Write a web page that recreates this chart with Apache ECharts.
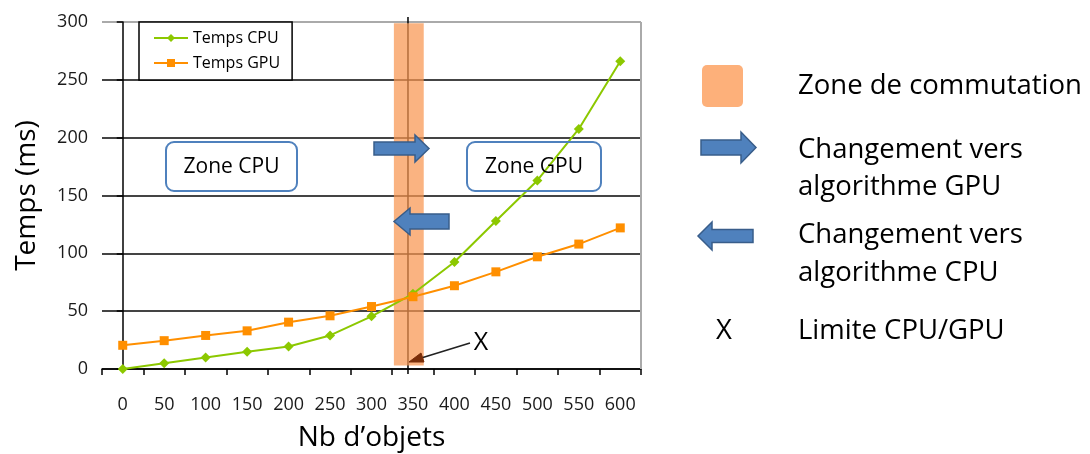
<!DOCTYPE html>
<html><head><meta charset="utf-8">
<script src="https://cdn.jsdelivr.net/npm/echarts@6/dist/echarts.min.js"></script>
<style>html,body{margin:0;padding:0;background:#fff}#c{width:1090px;height:454px}</style>
</head><body><div id="c"></div>
<script>
const categories = ['0','50','100','150','200','250','300','350','400','450','500','550','600'];
const cpuTimes = [0, 5, 10, 15, 19.5, 29, 45.5, 65, 92.5, 128, 163, 207.5, 266];
const gpuTimes = [20.5, 24.5, 29, 33, 40.5, 46, 54, 62.5, 72, 84, 97, 108, 122];
const zoneX = [327, 363];      // zone de commutation (in Nb d'objets)
const zoneY = [3, 299];
const limitX = 344;            // limite CPU/GPU
const FONT = 'Open Sans';

const chart = echarts.init(document.getElementById('c'));
const option = {
  animation: false,
  backgroundColor: '#fff',
  grid: { left: 102, right: 449, top: 22, bottom: 85, containLabel: false, outerBoundsMode: 'none' },
  legend: {
    left: 139, top: 22, orient: 'vertical',
    borderColor: '#000', borderWidth: 1.5, backgroundColor: '#fff',
    padding: [8, 12, 9, 14], itemGap: 9, itemWidth: 34, itemHeight: 10,
    textStyle: { fontSize: 16, color: '#000', fontFamily: FONT },
    data: ['Temps CPU', 'Temps GPU']
  },
  xAxis: [{
    type: 'category', data: categories, boundaryGap: true,
    name: 'Nb d\u2019objets', nameLocation: 'middle', nameGap: 55,
    nameTextStyle: { fontSize: 28, color: '#000', fontFamily: FONT },
    axisLine: { lineStyle: { color: '#000', width: 1.5 } },
    axisTick: { show: true, length: 6, inside: false, lineStyle: { color: '#000', width: 1.5 } },
    axisLabel: { margin: 27, fontSize: 18, color: '#1a1a1a', fontFamily: FONT },
    splitLine: { show: false }
  }, {
    type: 'value', min: -25, max: 625, show: false
  }],
  yAxis: {
    type: 'value', min: 0, max: 300, interval: 50,
    name: 'Temps (ms)', nameLocation: 'middle', nameGap: 61,
    nameTextStyle: { fontSize: 28, color: '#000', fontFamily: FONT },
    axisLine: { show: true, lineStyle: { color: '#000', width: 1.5 } },
    axisTick: { show: true, length: 6, lineStyle: { color: '#000', width: 1.5 } },
    axisLabel: { margin: 14, fontSize: 18, color: '#1a1a1a', fontFamily: FONT },
    splitLine: { show: true, lineStyle: { color: ['#444','#444','#444','#444','#444','#444','#aaa'], width: 2 } }
  },
  series: [{
    name: 'Temps CPU', type: 'line', data: cpuTimes, z: 5,
    symbol: 'diamond', symbolSize: 10,
    lineStyle: { color: '#8CC800', width: 2 }, itemStyle: { color: '#8CC800' }
  }, {
    name: 'Temps GPU', type: 'line', data: gpuTimes, z: 5,
    symbol: 'rect', symbolSize: 9,
    lineStyle: { color: '#FF8F00', width: 2 }, itemStyle: { color: '#FF8F00' }
  }]
};
chart.setOption(option);

const px = v => chart.convertToPixel({ xAxisIndex: 1 }, v);
const py = v => chart.convertToPixel({ yAxisIndex: 0 }, v);

function arrow(x0, x1, yc, bh, hh, hl, dir, fill, stroke) {
  let pts;
  if (dir > 0) {
    const xh = x1 - hl;
    pts = [[x0, yc - bh], [xh, yc - bh], [xh, yc - hh], [x1, yc], [xh, yc + hh], [xh, yc + bh], [x0, yc + bh]];
  } else {
    const xh = x0 + hl;
    pts = [[x1, yc - bh], [xh, yc - bh], [xh, yc - hh], [x0, yc], [xh, yc + hh], [xh, yc + bh], [x1, yc + bh]];
  }
  return { type: 'polygon', z: 30, shape: { points: pts }, style: { fill: fill || '#4F81BD', stroke: stroke || '#385D8A', lineWidth: 1.5 } };
}

const zx0 = px(zoneX[0]), zx1 = px(zoneX[1]);
const zy0 = py(zoneY[1]), zy1 = py(zoneY[0]);
const lx = px(limitX);
const BIG = 27.5;

const graphics = [
  { type: 'line', z: 1, shape: { x1: lx, y1: 17, x2: lx, y2: 374 }, style: { stroke: '#000', lineWidth: 1.5 } },
  { type: 'rect', z: 2, shape: { x: zx0, y: zy0, width: zx1 - zx0, height: zy1 - zy0 }, style: { fill: 'rgba(248,150,80,0.72)' } },
  // Zone boxes
  { type: 'rect', z: 30, shape: { x: 166, y: 142, width: 131, height: 49, r: 8 }, style: { fill: '#fff', stroke: '#4F81BD', lineWidth: 2 } },
  { type: 'text', z: 31, style: { x: 231.5, y: 167, text: 'Zone CPU', fontSize: 21, fontFamily: FONT, fill: '#000', align: 'center', verticalAlign: 'middle' } },
  { type: 'rect', z: 30, shape: { x: 467, y: 142, width: 134, height: 49, r: 8 }, style: { fill: 'rgba(255,255,255,0)', stroke: '#4F81BD', lineWidth: 2 } },
  { type: 'text', z: 31, style: { x: 534, y: 167, text: 'Zone GPU', fontSize: 21, fontFamily: FONT, fill: '#000', align: 'center', verticalAlign: 'middle' } },
  // in-chart arrows
  arrow(374, 429, 148.5, 6.5, 13.5, 14, 1),
  arrow(394, 449, 221.5, 7.5, 13.5, 16, -1),
  // X annotation
  { type: 'text', z: 31, style: { x: 481, y: 343, text: 'X', fontSize: 25, fontFamily: FONT, fill: '#000', align: 'center', verticalAlign: 'middle' } },
  { type: 'line', z: 31, shape: { x1: 470, y1: 343, x2: 418, y2: 359 }, style: { stroke: '#222', lineWidth: 1.5 } },
  { type: 'polygon', z: 31, shape: { points: [[lx + 1, 362], [lx + 13, 353], [lx + 16, 362]] }, style: { fill: '#7a2e0a', stroke: '#7a2e0a', lineWidth: 1 } },
  // Right legend
  { type: 'rect', z: 30, shape: { x: 702, y: 65, width: 41, height: 42, r: 5 }, style: { fill: '#FDB07A' } },
  { type: 'text', z: 31, style: { x: 798, y: 86, text: 'Zone de commutation', fontSize: BIG, fontFamily: FONT, fill: '#000', verticalAlign: 'middle' } },
  arrow(701, 756, 147.5, 7.5, 15.5, 15, 1),
  { type: 'text', z: 31, style: { x: 798, y: 150, text: 'Changement vers', fontSize: BIG, fontFamily: FONT, fill: '#000', verticalAlign: 'middle' } },
  { type: 'text', z: 31, style: { x: 798, y: 187, text: 'algorithme GPU', fontSize: BIG, fontFamily: FONT, fill: '#000', verticalAlign: 'middle' } },
  arrow(698, 753, 236, 6.5, 14, 14, -1),
  { type: 'text', z: 31, style: { x: 798, y: 235, text: 'Changement vers', fontSize: BIG, fontFamily: FONT, fill: '#000', verticalAlign: 'middle' } },
  { type: 'text', z: 31, style: { x: 798, y: 273, text: 'algorithme CPU', fontSize: BIG, fontFamily: FONT, fill: '#000', verticalAlign: 'middle' } },
  { type: 'text', z: 31, style: { x: 724, y: 331, text: 'X', fontSize: BIG, fontFamily: FONT, fill: '#000', align: 'center', verticalAlign: 'middle' } },
  { type: 'text', z: 31, style: { x: 798, y: 331, text: 'Limite CPU/GPU', fontSize: BIG, fontFamily: FONT, fill: '#000', verticalAlign: 'middle' } },
  // right border of plot
  { type: 'line', z: 1, shape: { x1: 641, y1: 22, x2: 641, y2: 369 }, style: { stroke: '#aaa', lineWidth: 2 } }
];
chart.setOption({ graphic: graphics });
</script></body></html>
